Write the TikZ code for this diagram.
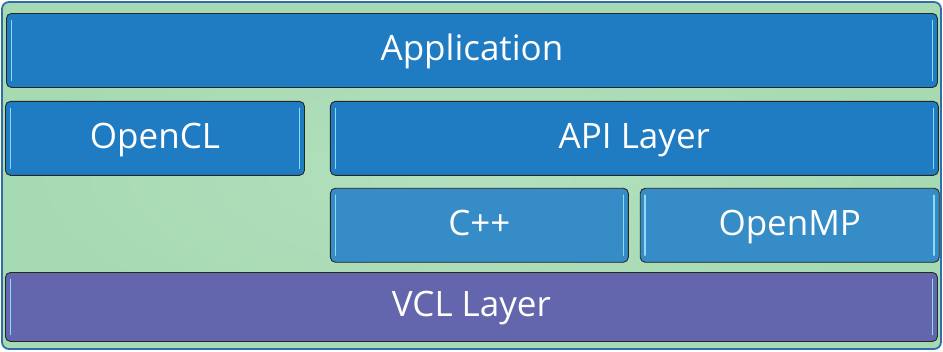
\documentclass[tikz,border=0pt]{standalone}
\usepackage{fontspec}
\setmainfont{Open Sans}
\usetikzlibrary{positioning}

\definecolor{bgGreen}{HTML}{A6DAB2}
\definecolor{frameBlue}{HTML}{2F6EA9}
\definecolor{layerBlue}{HTML}{1F7BC2}
\definecolor{libBlue}{HTML}{358CC6}
\definecolor{vclPurple}{HTML}{6466AD}

\begin{document}
\begin{tikzpicture}[
  x=1pt, y=-1pt,
  font=\fontsize{35}{40}\selectfont,
  box/.style={draw=black!85, line width=0.9pt, rounded corners=5pt, text=white, inner sep=0pt,
    minimum height=74pt, fill=#1, text height=26pt, text depth=6pt,
    path picture={
      \draw[white!55!cyan, line width=1.6pt, line cap=round]
        ([xshift=5pt,yshift=-7pt]path picture bounding box.north west) --
        ([xshift=5pt,yshift=7pt]path picture bounding box.south west);
      \draw[white!55!cyan, line width=1.6pt, line cap=round]
        ([xshift=-5pt,yshift=-7pt]path picture bounding box.north east) --
        ([xshift=-5pt,yshift=7pt]path picture bounding box.south east);
    }},
  layer/.style={box=layerBlue},
  lib/.style={box=libBlue},
  base/.style={box=vclPurple, minimum height=69pt}
]

\useasboundingbox (0,0) rectangle (943,351);

% background panel
\node[draw=frameBlue, line width=1.8pt, rounded corners=7pt, minimum width=939pt, minimum height=347pt,
  inner color=bgGreen!85!white, outer color=bgGreen] (panel) at (471.5,175.5) {};

\node[layer, minimum width=931pt, anchor=north west] (app) at (6,13) {Application};
\node[layer, minimum width=299pt, below=13pt of app.south west, anchor=north west, xshift=-1pt] (opencl) {OpenCL};
\node[layer, minimum width=608pt, right=25pt of opencl] (api) {API Layer};
\node[lib, minimum width=298pt, below=12pt of api.south west, anchor=north west] (cpp) {C++};
\node[lib, minimum width=299pt, right=11pt of cpp] (openmp) {OpenMP};
\node[base, minimum width=932pt, anchor=north west] (vcl) at (5,272) {VCL Layer};

\end{tikzpicture}
\end{document}
